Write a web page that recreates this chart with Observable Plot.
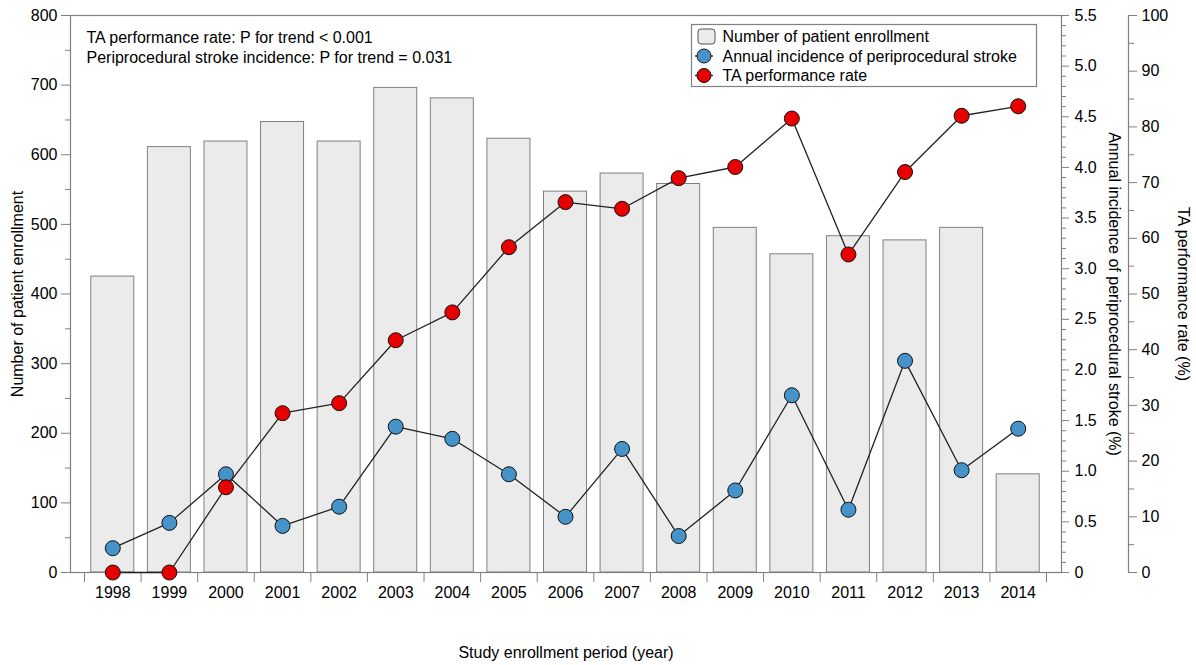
<!DOCTYPE html>
<html>
<head>
<meta charset="utf-8">
<script src="https://cdn.jsdelivr.net/npm/d3@7"></script>
<script src="https://cdn.jsdelivr.net/npm/@observablehq/plot@0.6"></script>
<style>
  body { margin: 0; background: #fff; }
  #chart { position: relative; width: 1196px; height: 665px; font-family: "Liberation Sans", Arial, Helvetica, sans-serif; }
  #legend { position: absolute; left: 690px; top: 23px; }
</style>
</head>
<body>
<div id="chart"></div>
<script>
// Study enrollment years
const years = [1998, 1999, 2000, 2001, 2002, 2003, 2004, 2005, 2006, 2007, 2008, 2009, 2010, 2011, 2012, 2013, 2014];
// Number of patients enrolled per year (left axis)
const enrollment = [425, 611, 619, 647, 619, 696, 681, 623, 547, 573, 558, 495, 457, 483, 477, 495, 141];
// Annual incidence of periprocedural stroke, % (first right axis)
const strokeIncidence = [0.24, 0.49, 0.97, 0.46, 0.65, 1.44, 1.32, 0.97, 0.55, 1.22, 0.36, 0.81, 1.75, 0.62, 2.09, 1.01, 1.42];
// TA performance rate, % (second right axis)
const taRate = [0, 0, 15.3, 28.6, 30.4, 41.7, 46.7, 58.4, 66.5, 65.3, 70.8, 72.8, 81.5, 57.1, 71.9, 82.0, 83.7];

// Tick values of the three vertical axes
const enrollTicks = [0, 100, 200, 300, 400, 500, 600, 700, 800];
const enrollMinor = [50, 150, 250, 350, 450, 550, 650, 750];
const strokeTicks = [0, 0.5, 1.0, 1.5, 2.0, 2.5, 3.0, 3.5, 4.0, 4.5, 5.0, 5.5];
const strokeMinor = d3.range(0, 56).map(i => i / 10).filter(v => Math.round(v * 10) % 5 !== 0);
const taTicks = [0, 10, 20, 30, 40, 50, 60, 70, 80, 90, 100];
const taMinor = [5, 15, 25, 35, 45, 55, 65, 75, 85, 95];

const ENROLL_MAX = 800, STROKE_MAX = 5.5, TA_MAX = 100;
const fromStroke = v => v * ENROLL_MAX / STROKE_MAX;
const fromTa = v => v * ENROLL_MAX / TA_MAX;

const rows = years.map((year, i) => ({
  year,
  enrollment: enrollment[i],
  stroke: fromStroke(strokeIncidence[i]),
  ta: fromTa(taRate[i])
}));

const boundaries = years.map(y => y - 0.5).concat([years[years.length - 1] + 0.5]);
const AXIS = "#808080";
const FONT = "\"Liberation Sans\", Arial, Helvetica, sans-serif";
const BLUE = "#4593c8", RED = "#e60000";
const RIGHT2 = 67; // offset of the TA axis from the frame

const fmtStroke = v => { const s = v * STROKE_MAX / ENROLL_MAX; return Math.abs(s) < 1e-9 ? "0" : s.toFixed(1); };
const fmtTa = v => String(Math.round(v * TA_MAX / ENROLL_MAX));

const chart = Plot.plot({
  width: 1196,
  height: 665,
  marginTop: 15,
  marginBottom: 93,
  marginLeft: 70,
  marginRight: 135,
  style: { fontFamily: FONT, fontSize: "16px", color: "#000", background: "#fff" },
  x: { domain: [1997.5, 2014.5], insetLeft: 14, insetRight: 15, axis: null, label: null },
  y: { domain: [0, 800], axis: null, label: null },
  marks: [
    Plot.rectY(rows, { x1: d => d.year - 0.38, x2: d => d.year + 0.38, y: "enrollment", fill: "#ebebeb", stroke: AXIS, strokeWidth: 1 }),
    Plot.frame({ stroke: AXIS, strokeWidth: 1.2 }),
    Plot.frame({ anchor: "right", dx: RIGHT2, stroke: AXIS, strokeWidth: 1.2 }),

    // left axis: patient enrollment
    Plot.axisY({ ticks: enrollTicks, anchor: "left", tickSize: 9, tickPadding: 4, stroke: AXIS, label: null, tickFormat: d => String(d) }),
    Plot.axisY({ ticks: enrollMinor, anchor: "left", tickSize: 5, stroke: AXIS, label: null, tickFormat: () => "" }),

    // first right axis: stroke incidence
    Plot.axisY({ ticks: strokeTicks.map(fromStroke), anchor: "right", tickSize: 7, tickPadding: 6, stroke: AXIS, label: null, tickFormat: fmtStroke }),
    Plot.axisY({ ticks: strokeMinor.map(fromStroke), anchor: "right", tickSize: 4, stroke: AXIS, label: null, tickFormat: () => "" }),

    // second right axis: TA performance rate
    Plot.axisY({ ticks: taTicks.map(fromTa), anchor: "right", dx: RIGHT2, tickSize: 8, tickPadding: 5, stroke: AXIS, label: null, tickFormat: fmtTa }),
    Plot.axisY({ ticks: taMinor.map(fromTa), anchor: "right", dx: RIGHT2, tickSize: 5, stroke: AXIS, label: null, tickFormat: () => "" }),

    // x axis: year labels centred on bars, ticks on the boundaries
    Plot.axisX({ ticks: years, anchor: "bottom", tickSize: 0, tickPadding: 14, label: null, tickFormat: d => String(d) }),
    Plot.axisX({ ticks: boundaries, anchor: "bottom", tickSize: 10, stroke: AXIS, label: null, tickFormat: () => "" }),

    // stroke incidence series
    Plot.line(rows, { x: "year", y: "stroke", stroke: "#222", strokeWidth: 1.3 }),
    Plot.dot(rows, { x: "year", y: "stroke", r: 7.5, fill: BLUE, stroke: "#111", strokeWidth: 1 }),

    // TA performance series
    Plot.line(rows, { x: "year", y: "ta", stroke: "#222", strokeWidth: 1.3 }),
    Plot.dot(rows, { x: "year", y: "ta", r: 7.5, fill: RED, stroke: "#111", strokeWidth: 1 }),

    // axis titles
    Plot.text(["Number of patient enrollment"], { frameAnchor: "left", textAnchor: "middle", lineAnchor: "middle", rotate: -90, dx: -53, fontSize: 16 }),
    Plot.text(["Annual incidence of periprocedural stroke (%)"], { frameAnchor: "right", textAnchor: "middle", lineAnchor: "middle", rotate: 90, dx: 53, fontSize: 16 }),
    Plot.text(["TA performance rate (%)"], { frameAnchor: "right", textAnchor: "middle", lineAnchor: "middle", rotate: 90, dx: 122, fontSize: 16 }),
    Plot.text(["Study enrollment period (year)"], { frameAnchor: "bottom", textAnchor: "middle", lineAnchor: "middle", dy: 80, fontSize: 16 }),

    // trend test annotation
    Plot.text(["TA performance rate: P for trend < 0.001\nPeriprocedural stroke incidence: P for trend = 0.031"], {
      frameAnchor: "top-left", dx: 16, dy: 13, textAnchor: "start", lineAnchor: "top", lineHeight: 1.25, fontSize: 16
    })
  ]
});

const host = document.getElementById("chart");
host.appendChild(chart);

// legend drawn as a small overlay box
const legend = d3.create("svg")
  .attr("id", "legend")
  .attr("width", 350)
  .attr("height", 68)
  .style("font-family", FONT)
  .style("font-size", "16px");

legend.append("rect")
  .attr("x", 1.5).attr("y", 1.5).attr("width", 345).attr("height", 62)
  .attr("fill", "#fff").attr("stroke", AXIS).attr("stroke-width", 1.2);

const legendItems = [
  { label: "Number of patient enrollment", kind: "bar" },
  { label: "Annual incidence of periprocedural stroke", kind: "dot", color: BLUE },
  { label: "TA performance rate", kind: "dot", color: RED }
];

legendItems.forEach((item, i) => {
  const cy = 13.5 + i * 19.5;
  if (item.kind === "bar") {
    legend.append("rect")
      .attr("x", 8).attr("y", cy - 7.5).attr("width", 17).attr("height", 15).attr("rx", 3)
      .attr("fill", "#ebebeb").attr("stroke", "#555").attr("stroke-width", 1);
  } else {
    legend.append("line")
      .attr("x1", 5).attr("x2", 23).attr("y1", cy).attr("y2", cy)
      .attr("stroke", "#222").attr("stroke-width", 1.3);
    legend.append("circle")
      .attr("cx", 14).attr("cy", cy).attr("r", 7)
      .attr("fill", item.color).attr("stroke", "#111").attr("stroke-width", 1);
  }
  legend.append("text")
    .attr("x", 32.5).attr("y", cy).attr("dy", "0.35em")
    .attr("fill", "#000")
    .text(item.label);
});

host.appendChild(legend.node());
</script>
</body>
</html>
